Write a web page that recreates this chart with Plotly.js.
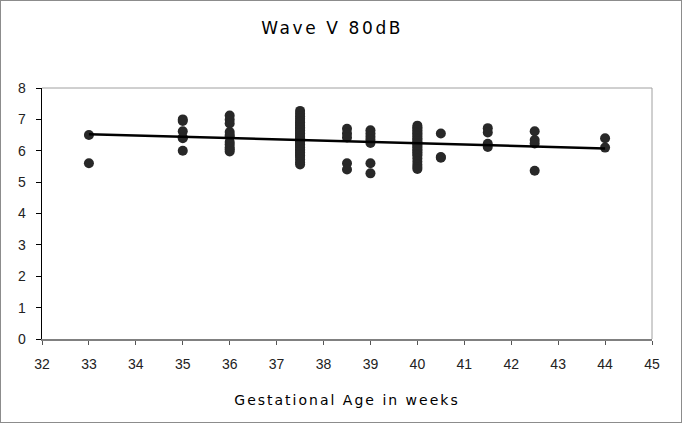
<!DOCTYPE html>
<html>
<head>
<meta charset="utf-8">
<script src="https://cdn.plot.ly/plotly-3.0.1.min.js"></script>
<style>
html,body{margin:0;padding:0;background:#fff;}
#chart{width:682px;height:423px;box-sizing:border-box;border:1px solid #8c8c8c;}
#chart .gtitle{letter-spacing:2.6px;}
#chart .xtitle{letter-spacing:2px;}
</style>
</head>
<body>
<div id="chart"></div>
<script>
// Gestational age (weeks) for each group of measurements
const weeks = [33, 35, 36, 37.5, 38.5, 39, 40, 40.5, 41.5, 42.5, 44];
// Wave V latency values at 80dB for each gestational age group
const latencies = [
  [6.5, 5.6],
  [7.0, 6.95, 6.62, 6.42, 6.4, 6.0],
  [7.12, 6.99, 6.87, 6.6, 6.5, 6.45, 6.28, 6.2, 6.1, 6.05, 5.98],
  [7.27, 7.18, 7.1, 7.02, 6.95, 6.9, 6.85, 6.8, 6.75, 6.7, 6.65, 6.6, 6.55, 6.5, 6.45, 6.4, 6.35, 6.3, 6.25, 6.2, 6.15, 6.1, 6.05, 6.0, 5.95, 5.9, 5.85, 5.8, 5.72, 5.63, 5.56],
  [6.7, 6.55, 6.42, 5.6, 5.4],
  [6.65, 6.55, 6.45, 6.35, 6.25, 5.6, 5.28],
  [6.8, 6.75, 6.7, 6.65, 6.6, 6.55, 6.5, 6.45, 6.4, 6.35, 6.3, 6.25, 6.2, 6.15, 6.1, 6.05, 6.0, 5.95, 5.9, 5.85, 5.75, 5.65, 5.55, 5.48, 5.42],
  [6.55, 5.8, 5.78],
  [6.72, 6.58, 6.22, 6.12],
  [6.62, 6.34, 6.23, 5.36],
  [6.4, 6.1]
];
const xTicks = [32,33,34,35,36,37,38,39,40,41,42,43,44,45];
const yTicks = [0,1,2,3,4,5,6,7,8];

const xs = [], ys = [];
weeks.forEach((w, i) => latencies[i].forEach(v => { xs.push(w); ys.push(v); }));

// least squares linear trendline
const n = xs.length;
const mx = xs.reduce((a,b)=>a+b,0)/n, my = ys.reduce((a,b)=>a+b,0)/n;
let sxy = 0, sxx = 0;
for (let i = 0; i < n; i++) { sxy += (xs[i]-mx)*(ys[i]-my); sxx += (xs[i]-mx)**2; }
const slope = sxy/sxx, icpt = my - slope*mx;
const xMin = Math.min(...xs), xMax = Math.max(...xs);

const tickFont = {family: 'Liberation Sans Narrow, Arial Narrow, Liberation Sans', size: 14, color: '#222'};

const traces = [
  {x: xs, y: ys, type: 'scatter', mode: 'markers',
   marker: {color: '#282828', size: 10}, showlegend: false},
  {x: [xMin, xMax], y: [icpt + slope*xMin, icpt + slope*xMax], type: 'scatter', mode: 'lines',
   line: {color: '#000', width: 2.5}, showlegend: false}
];

const layout = {
  width: 680, height: 421,
  margin: {l: 41, r: 29, t: 87, b: 83},
  paper_bgcolor: '#fff', plot_bgcolor: '#fff',
  title: {text: 'Wave V 80dB',
          font: {family: 'DejaVu Sans', size: 17, color: '#000'}, x: 0.487, xanchor: 'center', y: 0.935, yanchor: 'middle'},
  xaxis: {range: [32, 45], tickvals: xTicks, ticktext: xTicks.map(String),
          showgrid: false, zeroline: false, showline: true, linecolor: '#808080', linewidth: 2,
          ticks: 'outside', ticklen: 4, tickcolor: '#555', tickwidth: 1,
          ticklabelstandoff: 7, tickfont: tickFont,
          title: {text: 'Gestational Age in weeks', standoff: 24,
                  font: {family: 'DejaVu Sans', size: 14, color: '#000'}}},
  yaxis: {range: [0, 8], tickvals: yTicks, ticktext: yTicks.map(String),
          showgrid: false, zeroline: false, showline: true, linecolor: '#000', linewidth: 1.5,
          ticks: 'outside', ticklen: 5, tickcolor: '#000', tickwidth: 1,
          ticklabelstandoff: 7, tickfont: tickFont},
  shapes: [
    {type: 'line', xref: 'paper', yref: 'paper', x0: 0, x1: 1, y0: 1, y1: 1, line: {color: '#a0a0a0', width: 1}},
    {type: 'line', xref: 'paper', yref: 'paper', x0: 1, x1: 1, y0: 0, y1: 1, line: {color: '#a0a0a0', width: 1}}
  ]
};
Plotly.newPlot('chart', traces, layout, {displayModeBar: false, staticPlot: true});
</script>
</body>
</html>
